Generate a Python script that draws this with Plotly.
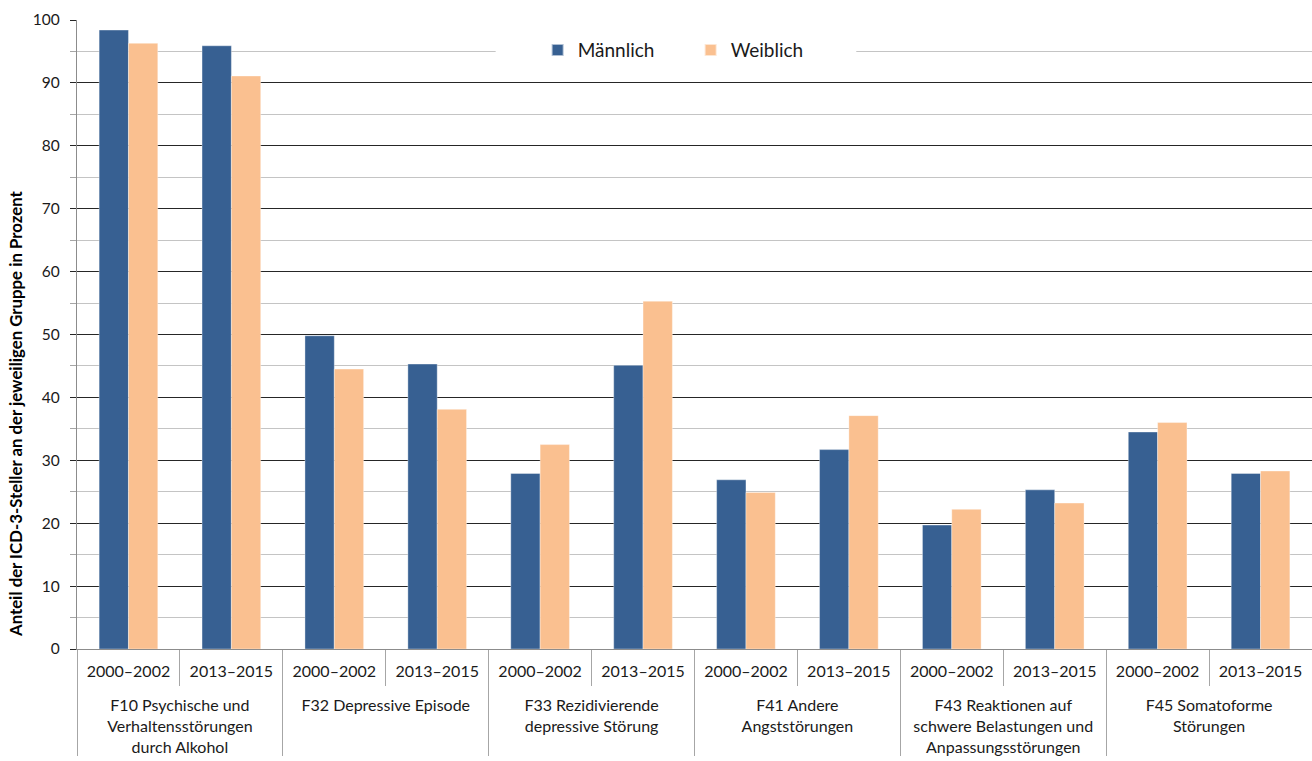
import plotly.graph_objects as go

groups = [
    "F10 Psychische und<br>Verhaltensstörungen<br>durch Alkohol",
    "F32 Depressive Episode",
    "F33 Rezidivierende<br>depressive Störung",
    "F41 Andere<br>Angststörungen",
    "F43 Reaktionen auf<br>schwere Belastungen und<br>Anpassungsstörungen",
    "F45 Somatoforme<br>Störungen",
]
periods = ["2000–2002", "2013–2015"]

maennlich = [98.4, 95.9, 49.8, 45.3, 27.9, 45.1, 26.9, 31.7, 19.7, 25.3, 34.5, 27.9]
weiblich = [96.3, 91.1, 44.5, 38.1, 32.5, 55.3, 24.9, 37.1, 22.2, 23.2, 36.0, 28.3]

# leading line break spaces the group labels below the period labels
outer = ["<br>" + g for g in groups for _ in periods]
inner = [p for _ in groups for p in periods]

FONT = "Lato"

fig = go.Figure()
fig.add_trace(go.Bar(
    x=[outer, inner], y=maennlich, name="Männlich",
    marker=dict(color="#376092", line=dict(color="rgba(255,255,255,0.6)", width=0.6)),
))
fig.add_trace(go.Bar(
    x=[outer, inner], y=weiblich, name="Weiblich",
    marker=dict(color="#FAC090", line=dict(color="rgba(255,255,255,0.6)", width=0.6)),
))

fig.update_layout(
    width=1312, height=761,
    margin=dict(l=77, r=0, t=20, b=112),
    paper_bgcolor="white", plot_bgcolor="white",
    barmode="group", bargap=0.43, bargroupgap=0,
    font=dict(family=FONT, size=16, color="#1a1a1a"),
    showlegend=True,
    legend=dict(
        orientation="h", x=0.373, xanchor="left", y=0.952, yanchor="middle",
        bgcolor="rgba(0,0,0,0)", font=dict(size=19, family=FONT),
        entrywidth=108, itemsizing="constant",
    ),
    shapes=[dict(
        type="rect", xref="paper", yref="y", x0=0.339, x1=0.631, y0=90.5, y1=99.7,
        fillcolor="white", line=dict(width=0), layer="above",
    )],
    annotations=[dict(
        text="<b>Anteil der ICD-3-Steller an der jeweiligen Gruppe in Prozent</b>",
        textangle=-90, xref="paper", yref="paper", x=-0.0502, xanchor="center",
        y=(649 - 414) / 629, yanchor="middle", showarrow=False,
        font=dict(size=16.8, family=FONT, color="#000"),
    )],
)

fig.update_yaxes(
    range=[0, 100], dtick=10, tick0=0,
    showline=True, linecolor="#8c8c8c", linewidth=1.3,
    ticks="outside", ticklen=6, tickcolor="#262626", tickwidth=1.3,
    showgrid=True, gridcolor="#262626", gridwidth=1.3,
    zeroline=False, ticklabelstandoff=7,
    tickfont=dict(size=15.5, family=FONT, color="#1a1a1a"),
    minor=dict(dtick=5, showgrid=True, gridcolor="#c4c4c4", gridwidth=1.3,
               ticks="outside", ticklen=6, tickcolor="#a6a6a6", tickwidth=1.3),
    automargin=False,
)
fig.update_xaxes(
    type="multicategory",
    showline=True, linecolor="#8c8c8c", linewidth=1.3,
    showgrid=False,
    ticks="outside", tickson="boundaries", ticklen=36, tickcolor="#a6a6a6", tickwidth=1.2,
    showdividers=True, dividercolor="#a6a6a6", dividerwidth=1.2,
    ticklabelstandoff=8,
    tickfont=dict(size=16, family=FONT, color="#1a1a1a"),
    automargin=False,
)

fig.write_html("out.html")
